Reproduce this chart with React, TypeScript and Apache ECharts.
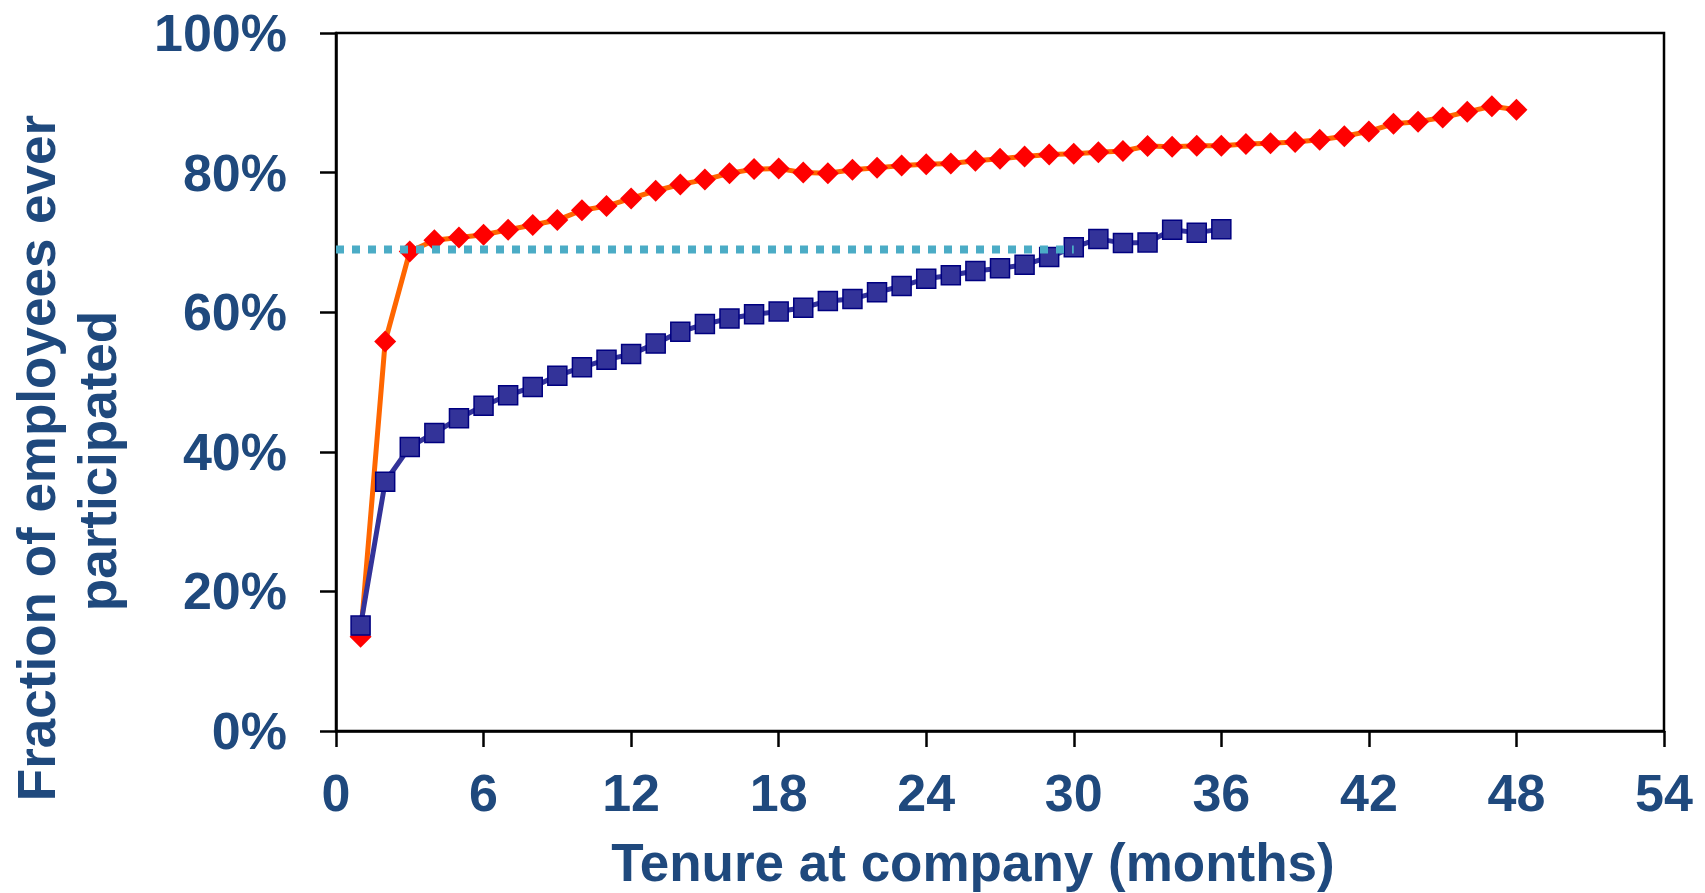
import React, { useEffect, useRef } from "react";
import * as echarts from "echarts";

const xTicks = { min: 0, max: 54, interval: 6 };
const yTicks = { min: 0, max: 100, interval: 20 };

const redValues = [
  13.5, 55.8, 68.7, 70.3, 70.7, 71.1, 71.8, 72.5, 73.2, 74.6,
  75.2, 76.3, 77.4, 78.3, 79.0, 79.9, 80.5, 80.6, 80.0, 79.9,
  80.4, 80.7, 81.0, 81.2, 81.3, 81.7, 82.0, 82.3, 82.6, 82.7,
  82.9, 83.1, 83.8, 83.7, 83.85, 83.85, 84.1, 84.2, 84.4, 84.7,
  85.2, 85.9, 87.0, 87.3, 87.9, 88.7, 89.5, 89.0,
];

const blueValues = [
  15.1, 35.7, 40.7, 42.7, 44.8, 46.6, 48.1, 49.3, 50.9, 52.1,
  53.2, 54.0, 55.5, 57.2, 58.3, 59.1, 59.7, 60.1, 60.65, 61.6,
  61.9, 62.85, 63.75, 64.8, 65.3, 65.9, 66.3, 66.8, 67.9, 69.3,
  70.5, 69.9, 70.0, 71.8, 71.4, 71.9,
];

const refLevel = 69;
const refRange = [0, 30];

const xTitle = "Tenure at company (months)";
const yTitleLines = ["Fraction of employees ever", "participated"];

const TEXT_COLOR = "#1F497D";
const FONT = "'Liberation Sans', Arial, Helvetica, sans-serif";

export default function App() {
  const ref = useRef<HTMLDivElement>(null);

  useEffect(() => {
    if (!ref.current) return;
    const chart = echarts.init(ref.current, null, { renderer: "svg" });
    const toPairs = (vals: number[]) => vals.map((v, i) => [i + 1, v]);

    chart.setOption({
      animation: false,
      backgroundColor: "#ffffff",
      grid: {
        left: 336,
        top: 33,
        right: 41,
        bottom: 162,
        show: true,
        borderColor: "#000000",
        borderWidth: 2.5,
      },
      xAxis: {
        type: "value",
        min: xTicks.min,
        max: xTicks.max,
        interval: xTicks.interval,
        axisLine: { show: true, onZero: false, lineStyle: { color: "#000", width: 2.5 } },
        axisTick: { show: true, inside: false, length: 16, lineStyle: { color: "#000", width: 2.5 } },
        splitLine: { show: false },
        axisLabel: {
          margin: 36,
          color: TEXT_COLOR,
          fontSize: 52,
          fontWeight: "bold",
          fontFamily: FONT,
        },
      },
      yAxis: {
        type: "value",
        min: yTicks.min,
        max: yTicks.max,
        interval: yTicks.interval,
        axisLine: { show: true, lineStyle: { color: "#000", width: 2.5 } },
        axisTick: { show: true, inside: false, length: 16, lineStyle: { color: "#000", width: 2.5 } },
        splitLine: { show: false },
        axisLabel: {
          margin: 49,
          color: TEXT_COLOR,
          fontSize: 52,
          fontWeight: "bold",
          fontFamily: FONT,
          formatter: "{value}%",
        },
      },
      graphic: [
        {
          type: "text",
          x: 973,
          y: 862,
          style: {
            text: xTitle,
            fill: TEXT_COLOR,
            font: `bold 53px ${FONT}`,
            textAlign: "center",
            textVerticalAlign: "middle",
          },
        },
        {
          type: "text",
          x: 36,
          y: 458,
          rotation: Math.PI / 2,
          style: {
            text: yTitleLines[0],
            fill: TEXT_COLOR,
            font: `bold 53px ${FONT}`,
            textAlign: "center",
            textVerticalAlign: "middle",
          },
        },
        {
          type: "text",
          x: 97,
          y: 461,
          rotation: Math.PI / 2,
          style: {
            text: yTitleLines[1],
            fill: TEXT_COLOR,
            font: `bold 53px ${FONT}`,
            textAlign: "center",
            textVerticalAlign: "middle",
          },
        },
      ],
      series: [
        {
          type: "line",
          data: toPairs(redValues),
          symbol: "diamond",
          symbolSize: 22,
          itemStyle: { color: "#FF0000" },
          lineStyle: { color: "#FF6600", width: 5 },
          z: 2,
        },
        {
          type: "line",
          data: toPairs(blueValues),
          symbol: "rect",
          symbolSize: 19,
          itemStyle: { color: "#333399", borderColor: "#000080", borderWidth: 1.5 },
          lineStyle: { color: "#333399", width: 5 },
          z: 3,
        },
        {
          type: "line",
          data: [
            [refRange[0], refLevel],
            [refRange[1], refLevel],
          ],
          showSymbol: false,
          symbol: "none",
          lineStyle: { color: "#4BACC6", width: 8, type: [8, 8], cap: "butt" },
          z: 4,
        },
      ],
    });

    return () => chart.dispose();
  }, []);

  return (
    <div
      ref={ref}
      style={{ position: "fixed", left: 0, top: 0, width: 1705, height: 893 }}
    />
  );
}
